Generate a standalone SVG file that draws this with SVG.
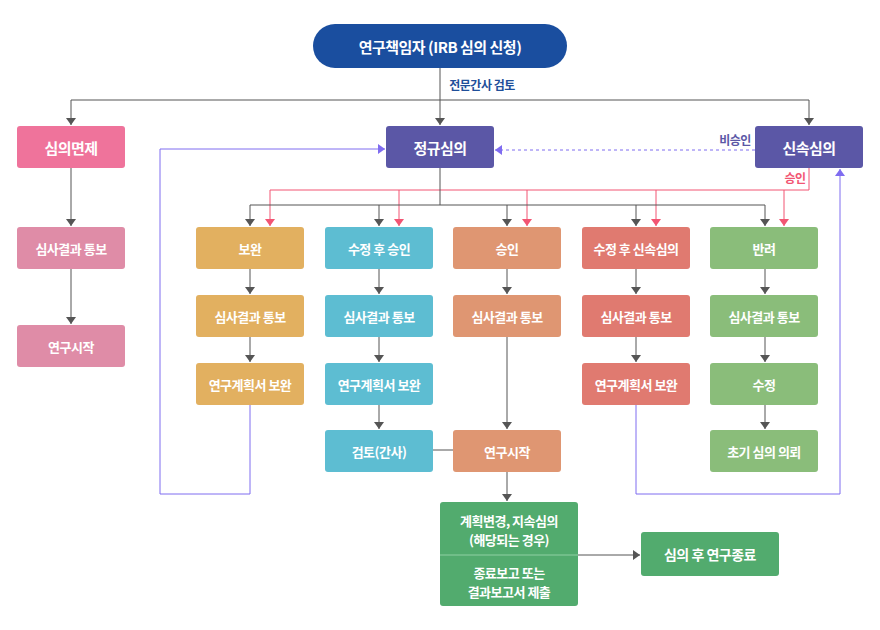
<svg xmlns="http://www.w3.org/2000/svg" width="880" height="630" viewBox="0 0 880 630">
<defs>
<style>
text{font-family:"Noto Sans CJK KR","Noto Sans",sans-serif;text-anchor:middle;dominant-baseline:central;fill:#fff;font-weight:bold;font-size:13px;letter-spacing:-0.5px}
.big{font-size:15px}
.g{stroke:#555;stroke-width:1;fill:none}
.r{stroke:#f25573;stroke-width:1;fill:none}
.p{stroke:#7f6cf0;stroke-width:1;fill:none}
.lbl{font-size:12px}
</style>
<marker id="ag" markerUnits="userSpaceOnUse" markerWidth="12" markerHeight="12" viewBox="0 0 12 12" refX="7" refY="6" orient="auto"><path d="M0,1 L7,6 L0,11 z" fill="#555"/></marker>
<marker id="ar" markerUnits="userSpaceOnUse" markerWidth="12" markerHeight="12" viewBox="0 0 12 12" refX="7" refY="6" orient="auto"><path d="M0,1 L7,6 L0,11 z" fill="#f25573"/></marker>
<marker id="ap" markerUnits="userSpaceOnUse" markerWidth="12" markerHeight="12" viewBox="0 0 12 12" refX="7" refY="6" orient="auto"><path d="M0,1 L7,6 L0,11 z" fill="#7f6cf0"/></marker>
</defs>
<rect width="880" height="630" fill="#fff"/>

<g id="connectors">
<path class="g" d="M440,68 V100"/>
<path class="g" d="M71,100 H809"/>
<path class="g" d="M71,100 V125" marker-end="url(#ag)"/>
<path class="g" d="M440,100 V125" marker-end="url(#ag)"/>
<path class="g" d="M809,100 V125" marker-end="url(#ag)"/>
<path class="g" d="M71,168 V226" marker-end="url(#ag)"/>
<path class="g" d="M71,268 V324" marker-end="url(#ag)"/>
<path class="p" d="M755,150 H495" stroke-dasharray="3,3" marker-end="url(#ap)"/>
<path class="p" d="M250,404 V494 H160 V149 H385" marker-end="url(#ap)"/>
<path class="p" d="M636,404 V494 H840 V169" marker-end="url(#ap)"/>
<path class="r" d="M809,168 V190 H270"/>
<path class="r" d="M270,190 V226" marker-end="url(#ar)"/>
<path class="r" d="M399,190 V226" marker-end="url(#ar)"/>
<path class="r" d="M527,190 V226" marker-end="url(#ar)"/>
<path class="r" d="M656,190 V226" marker-end="url(#ar)"/>
<path class="r" d="M784,190 V226" marker-end="url(#ar)"/>
<path class="g" d="M440,168 V205"/>
<path class="g" d="M250,205 H765"/>
<path class="g" d="M250,205 V226" marker-end="url(#ag)"/>
<path class="g" d="M379,205 V226" marker-end="url(#ag)"/>
<path class="g" d="M507,205 V226" marker-end="url(#ag)"/>
<path class="g" d="M636,205 V226" marker-end="url(#ag)"/>
<path class="g" d="M765,205 V226" marker-end="url(#ag)"/>
<path class="g" d="M250,268 V294" marker-end="url(#ag)"/>
<path class="g" d="M250,336 V362" marker-end="url(#ag)"/>
<path class="g" d="M379,268 V294" marker-end="url(#ag)"/>
<path class="g" d="M379,336 V362" marker-end="url(#ag)"/>
<path class="g" d="M379,404 V429" marker-end="url(#ag)"/>
<path class="g" d="M507,268 V294" marker-end="url(#ag)"/>
<path class="g" d="M507,336 V429" marker-end="url(#ag)"/>
<path class="g" d="M636,268 V294" marker-end="url(#ag)"/>
<path class="g" d="M636,336 V362" marker-end="url(#ag)"/>
<path class="g" d="M765,268 V294" marker-end="url(#ag)"/>
<path class="g" d="M765,336 V362" marker-end="url(#ag)"/>
<path class="g" d="M765,404 V429" marker-end="url(#ag)"/>
<path class="g" d="M433,450 H453"/>
<path class="g" d="M507,471 V501" marker-end="url(#ag)"/>
<path class="g" d="M578,555 H640" marker-end="url(#ag)"/>
<text x="482" y="84" class="lbl" style="fill:#1f4f9a">전문간사 검토</text>
<text x="735" y="139" class="lbl" style="fill:#5b57a6">비승인</text>
<text x="795" y="177" class="lbl" style="fill:#f25573">승인</text>
</g>

<g id="n-start"><rect x="313" y="24" width="254" height="44" rx="22" fill="#1a4e9f"/><text x="440" y="46" class="big">연구책임자 (IRB 심의 신청)</text></g>

<g id="n-exempt"><rect x="17" y="126" width="108" height="42" rx="3" fill="#ef739b"/><text x="71" y="147" class="big">심의면제</text></g>
<g id="n-exempt-notify"><rect x="17" y="227" width="108" height="42" rx="3" fill="#df8ca7"/><text x="71" y="248">심사결과 통보</text></g>
<g id="n-exempt-start"><rect x="17" y="325" width="108" height="42" rx="3" fill="#df8ca7"/><text x="71" y="346">연구시작</text></g>

<g id="n-regular"><rect x="386" y="126" width="108" height="42" rx="3" fill="#5b57a6"/><text x="440" y="147" class="big">정규심의</text></g>
<g id="n-expedited"><rect x="755" y="126" width="108" height="42" rx="3" fill="#5b57a6"/><text x="809" y="147" class="big">신속심의</text></g>

<g id="n-c1-1"><rect x="196" y="227" width="108" height="42" rx="3" fill="#e2b060"/><text x="250" y="248">보완</text></g>
<g id="n-c1-2"><rect x="196" y="295" width="108" height="42" rx="3" fill="#e2b060"/><text x="250" y="316">심사결과 통보</text></g>
<g id="n-c1-3"><rect x="196" y="363" width="108" height="42" rx="3" fill="#e2b060"/><text x="250" y="384">연구계획서 보완</text></g>

<g id="n-c2-1"><rect x="325" y="227" width="108" height="42" rx="3" fill="#5dbdd2"/><text x="379" y="248">수정 후 승인</text></g>
<g id="n-c2-2"><rect x="325" y="295" width="108" height="42" rx="3" fill="#5dbdd2"/><text x="379" y="316">심사결과 통보</text></g>
<g id="n-c2-3"><rect x="325" y="363" width="108" height="42" rx="3" fill="#5dbdd2"/><text x="379" y="384">연구계획서 보완</text></g>
<g id="n-c2-4"><rect x="325" y="430" width="108" height="42" rx="3" fill="#5dbdd2"/><text x="379" y="451">검토(간사)</text></g>

<g id="n-c3-1"><rect x="453" y="227" width="108" height="42" rx="3" fill="#df9672"/><text x="507" y="248">승인</text></g>
<g id="n-c3-2"><rect x="453" y="295" width="108" height="42" rx="3" fill="#df9672"/><text x="507" y="316">심사결과 통보</text></g>
<g id="n-c3-3"><rect x="453" y="430" width="108" height="42" rx="3" fill="#df9672"/><text x="507" y="451">연구시작</text></g>

<g id="n-c4-1"><rect x="582" y="227" width="108" height="42" rx="3" fill="#e07a70"/><text x="636" y="248">수정 후 신속심의</text></g>
<g id="n-c4-2"><rect x="582" y="295" width="108" height="42" rx="3" fill="#e07a70"/><text x="636" y="316">심사결과 통보</text></g>
<g id="n-c4-3"><rect x="582" y="363" width="108" height="42" rx="3" fill="#e07a70"/><text x="636" y="384">연구계획서 보완</text></g>

<g id="n-c5-1"><rect x="710" y="227" width="108" height="42" rx="3" fill="#8abd7a"/><text x="764" y="248">반려</text></g>
<g id="n-c5-2"><rect x="710" y="295" width="108" height="42" rx="3" fill="#8abd7a"/><text x="764" y="316">심사결과 통보</text></g>
<g id="n-c5-3"><rect x="710" y="363" width="108" height="42" rx="3" fill="#8abd7a"/><text x="764" y="384">수정</text></g>
<g id="n-c5-4"><rect x="710" y="430" width="108" height="42" rx="3" fill="#8abd7a"/><text x="764" y="451">초기 심의 의뢰</text></g>

<g id="n-report"><rect x="440" y="502" width="138" height="104" rx="3" fill="#52ab6e"/><line x1="440" y1="555" x2="578" y2="555" stroke="#8fd0a3" stroke-width="1"/>
<text x="509" y="520">계획변경, 지속심의</text><text x="509" y="539">(해당되는 경우)</text>
<text x="509" y="572">종료보고 또는</text><text x="509" y="591">결과보고서 제출</text></g>

<g id="n-end"><rect x="641" y="532" width="138" height="44" rx="3" fill="#52ab6e"/><text x="710" y="554" style="font-size:14px">심의 후 연구종료</text></g>
</svg>
